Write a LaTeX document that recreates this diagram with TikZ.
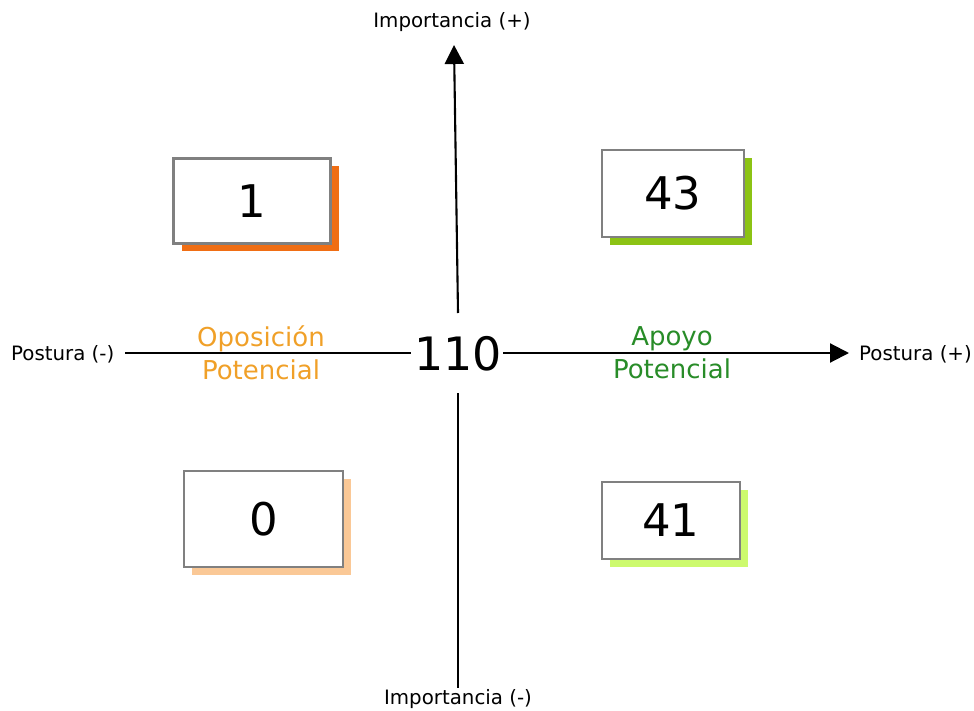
\documentclass[tikz,border=0pt]{standalone}
\usepackage{fontspec}
\setmainfont{DejaVu Sans}
\usetikzlibrary{arrows.meta,shadows}

\definecolor{optxt}{RGB}{240,160,40}
\definecolor{aptxt}{RGB}{40,140,40}
\definecolor{shA}{RGB}{240,110,20}
\definecolor{shB}{RGB}{140,195,20}
\definecolor{shC}{RGB}{250,200,150}
\definecolor{shD}{RGB}{205,250,110}
\definecolor{frame}{RGB}{128,128,128}

\begin{document}
\begin{tikzpicture}[x=1pt,y=-1pt,
  axis/.style={line width=2.1pt,black},
  tip/.style={-{Triangle[length=19pt,width=19pt]}},
  axislabel/.style={font=\fontsize{19.8}{22}\selectfont,inner sep=0pt},
  bignum/.style={font=\fontsize{46}{50}\selectfont,inner sep=0pt},
  quadlabel/.style={font=\fontsize{26}{33}\selectfont,align=center,inner sep=0pt},
  countbox/.style={draw=frame,line width=2.2pt,fill=white,
    font=\fontsize{45}{48}\selectfont,inner sep=0pt},
  boxshadow/.style={drop shadow={shadow xshift=8pt,shadow yshift=-8pt,
    fill=#1,opacity=1}}]
\useasboundingbox (0,0) rectangle (974,711);

% axis labels
\node[axislabel] (impP) at (452,22) {Importancia (+)};
\node[axislabel] (impM) at (458,699) {Importancia (-)};
\node[axislabel,anchor=west] (posM) at (11,354) {Postura (-)};
\node[axislabel,anchor=west] (posP) at (859,354) {Postura (+)};

% total in the centre
\node[bignum] (total) at (458,354) {110};

% axis ends
\coordinate (upTop) at (454,45);
\coordinate (upBot) at (458,313);
\coordinate (dnTop) at (458,393);
\coordinate (dnBot) at (458,688);
\coordinate (lfL) at (125,353);
\coordinate (lfR) at (411,353);
\coordinate (rtL) at (503,353);
\coordinate (rtR) at (849,353);

\draw[axis,tip] (upBot) -- (upTop);
\draw[axis] (dnTop) -- (dnBot);
\draw[axis] (lfL) -- (lfR);
\draw[axis,tip] (rtL) -- (rtR);

% quadrant names
\node[quadlabel,text=optxt] (opos) at (261,353) {Oposición\\Potencial};
\node[quadlabel,text=aptxt] (apoyo) at (672,353) {Apoyo\\Potencial};

% count boxes with coloured shadows
\node[countbox,boxshadow=shA,minimum width=157pt,minimum height=85pt] (b1) at (252,201) {1};
\node[countbox,boxshadow=shB,minimum width=142pt,minimum height=87pt] (b43) at (673,193.5) {43};
\node[countbox,boxshadow=shC,minimum width=159pt,minimum height=96pt] (b0) at (263.5,519) {0};
\node[countbox,boxshadow=shD,minimum width=138pt,minimum height=77pt] (b41) at (671,520.5) {41};
\end{tikzpicture}
\end{document}
